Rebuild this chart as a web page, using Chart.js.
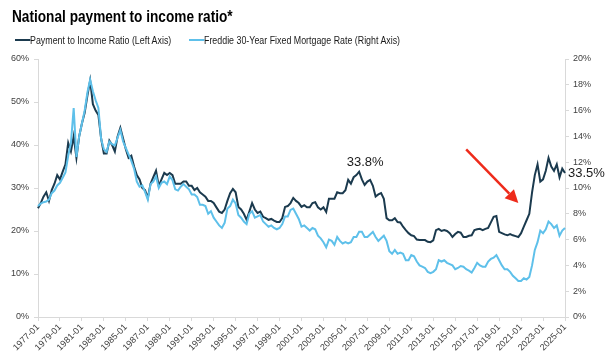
<!DOCTYPE html>
<html>
<head>
<meta charset="utf-8">
<script src="https://cdn.jsdelivr.net/npm/chart.js@4.4.0/dist/chart.umd.min.js"></script>
<style>
    body { margin: 0; background: #fff; }
    #wrap { position: relative; width: 610px; height: 358px; font-family: "Liberation Sans", Arial, sans-serif; }
    #grafico { position: absolute; left: 0; top: 0; }
    .titulo { position: absolute; left: 12px; top: 8px; font-size: 16px; font-weight: bold; color: #000;
              white-space: nowrap; transform: scaleX(0.853); transform-origin: left top; }
    .legenda { position: absolute; top: 33.5px; font-size: 11.5px; color: #1a1a1a; white-space: nowrap;
               display: flex; align-items: center; transform: scaleX(0.77); transform-origin: left top; }
    .legenda i { display: inline-block; width: 19.5px; height: 2px; }
</style>
</head>
<body>
<div id="wrap">
    <canvas id="grafico" width="610" height="358"></canvas>
    <div class="titulo">National payment to income ratio*</div>
    <div id="legendas"></div>
</div>

<script>
// dados trimestrais (1977-01 até 2025-01)
const anoInicio = 1977;
const mesesTrimestre = ['01', '04', '07', '10'];

const pagamentoRenda = [
    25.3, 26.5, 28, 29,
    27, 29.5, 31, 33,
    32, 33.8, 35.5, 40.5,
    38.5, 42, 37, 42,
    45, 47.5, 51.5, 55,
    49.5, 48, 47, 41.5,
    38, 38, 41, 40,
    38.5, 42, 44, 41.5,
    39, 37, 37.5, 35,
    33, 32, 30, 29.5,
    27.7, 31, 32.5, 34,
    30.5, 32, 33.5, 33,
    33.5, 33, 31, 31,
    31, 31.5, 31.5, 30.5,
    30.5, 29.5, 30, 29,
    28.5, 28, 27, 27,
    26.5, 25.5, 24.5, 24.2,
    25, 27, 28.8, 29.8,
    29, 25.6, 25, 24,
    22.6, 24.5, 26.5, 25,
    24.2, 24.5, 23.3, 23,
    22.6, 22.8, 22.4, 22.1,
    22.1, 23, 25.6, 25.8,
    26.5, 27.7, 27, 26.5,
    25.6, 26, 25.5, 25.5,
    26.5, 26.7, 25.5, 25,
    25.5, 24.4, 27.5, 27.5,
    27.5, 29, 28.8, 28.8,
    29.5, 31.9, 31, 32.5,
    33, 33.8, 32, 30.7,
    31.5, 31.9, 30.5, 28,
    28.5, 28.8, 27.5, 23,
    22.5, 22.5, 23, 22.1,
    22, 21, 20.2, 19.5,
    19, 18.8, 18, 17.9,
    17.9, 17.9, 17.5, 17.4,
    17.8, 20.2, 20.5, 20,
    20.2, 20, 19.5, 18.6,
    19.3, 19.8, 19.6, 18.6,
    18.6, 18.9, 19, 20.2,
    20.4, 20.5, 20.2, 20.5,
    20.7, 22, 23.3, 23.5,
    19.8, 19.5, 19.2, 19,
    19.3, 19, 18.8, 18.6,
    19.5, 21, 22.5, 24,
    29, 33, 35.5, 31.5,
    32, 34, 37, 35,
    34, 35.5, 32.5, 34.5,
    33.5
];

const taxaFreddie = [
    8.6, 8.8, 8.9, 8.95,
    9.1, 9.6, 9.8, 10.2,
    10.4, 10.8, 11.2, 12.5,
    13.5, 16.2, 12.4, 14.0,
    15.0, 16.0, 17.4, 18.4,
    17.5, 16.8, 16.2, 13.8,
    13.0, 12.8, 13.6, 13.4,
    13.3, 13.9, 14.5, 13.6,
    13.1, 12.6, 12.1, 11.5,
    10.5, 10.1, 10.2, 9.7,
    9.1, 10.3, 10.5, 10.9,
    10.0, 10.4, 10.5, 10.3,
    10.9, 10.6, 9.9, 9.8,
    10.1, 10.3, 10.1, 9.9,
    9.5, 9.5, 9.3, 8.7,
    8.7, 8.6, 8.0, 8.2,
    7.7, 7.4, 7.1, 6.9,
    7.3, 8.4, 8.6, 9.1,
    8.8, 7.9, 7.7, 7.4,
    7.2, 8.0, 8.2, 7.7,
    7.8, 7.9, 7.4, 7.2,
    7.0, 7.1, 6.9, 6.8,
    6.9, 7.2, 7.8, 7.8,
    8.3, 8.4, 8.0, 7.6,
    7.0, 7.1, 6.9, 6.7,
    6.9, 6.8, 6.3, 6.1,
    5.8, 5.4, 6.0, 5.9,
    5.6, 6.2, 5.9, 5.7,
    5.8, 5.7, 5.8, 6.2,
    6.2, 6.6, 6.6, 6.2,
    6.2, 6.4, 6.6, 6.2,
    5.9, 6.1, 6.3, 5.9,
    5.1, 4.9, 5.2, 4.9,
    5.0, 4.9, 4.4, 4.4,
    4.8, 4.7, 4.3, 4.0,
    3.9, 3.8, 3.5, 3.4,
    3.5, 3.7, 4.4, 4.3,
    4.4, 4.2, 4.1, 4.0,
    3.7, 3.8, 3.95, 3.9,
    3.7, 3.6, 3.45, 3.8,
    4.2, 4.0, 3.9, 3.9,
    4.3, 4.5, 4.6, 4.8,
    4.4, 4.0, 3.7, 3.7,
    3.5, 3.2, 3.0, 2.8,
    2.8, 3.0, 2.9, 3.1,
    4.0, 5.2, 5.8, 6.7,
    6.5, 6.8, 7.4, 7.2,
    6.9, 7.1, 6.3, 6.7,
    6.9
];

// rótulos "AAAA-MM" de cada trimestre
const rotulos = [];
for (let i = 0; i < pagamentoRenda.length; i++) {
    rotulos.push((anoInicio + Math.floor(i / 4)) + '-' + mesesTrimestre[i % 4]);
}

const nomesSeries = ['Payment to Income Ratio (Left Axis)', 'Freddie 30-Year Fixed Mortgage Rate (Right Axis)'];
const coresSeries = ['#1b3a4e', '#5ec0ea'];
const escalaEsquerda = [0, 60, 10];
const escalaDireita = [0, 20, 2];

// anotações
const picoRotulo = '2006-04';
const picoTexto = '33.8%';
const fimTexto = '33.5%';
const setaInicio = ['2016-01', 39];
const setaFim = ['2020-10', 26.5];

const corEixo = '#d9d9d9';
const corTexto = '#404040';
const fonte = '"Liberation Sans", Arial, sans-serif';

// legenda em html
document.getElementById('legendas').innerHTML = nomesSeries.map((nome, i) =>
    `<div class="legenda" style="left:${i === 0 ? 15 : 189}px"><i style="background:${coresSeries[i]}"></i>${nome}</div>`
).join('');

const anotacoes = {
    id: 'anotacoes',
    afterDatasetsDraw(chart) {
        const { ctx, scales: { x, y } } = chart;
        ctx.save();
        ctx.font = '13px ' + fonte;
        ctx.fillStyle = '#1a1a1a';

        const iPico = rotulos.indexOf(picoRotulo);
        ctx.textAlign = 'center';
        ctx.textBaseline = 'bottom';
        ctx.fillText(picoTexto, x.getPixelForValue(iPico) + 6, y.getPixelForValue(pagamentoRenda[iPico]) - 3);

        const iFim = pagamentoRenda.length - 1;
        ctx.textAlign = 'left';
        ctx.textBaseline = 'middle';
        ctx.fillText(fimTexto, x.getPixelForValue(iFim) + 3, y.getPixelForValue(pagamentoRenda[iFim]));

        // seta vermelha
        const x0 = x.getPixelForValue(rotulos.indexOf(setaInicio[0])), y0 = y.getPixelForValue(setaInicio[1]);
        const x1 = x.getPixelForValue(rotulos.indexOf(setaFim[0])), y1 = y.getPixelForValue(setaFim[1]);
        const ang = Math.atan2(y1 - y0, x1 - x0);
        const cabeca = 13, abertura = 6.5;
        const bx = x1 - cabeca * Math.cos(ang), by = y1 - cabeca * Math.sin(ang);
        ctx.strokeStyle = '#ee2b1b';
        ctx.fillStyle = '#ee2b1b';
        ctx.lineWidth = 2.5;
        ctx.beginPath();
        ctx.moveTo(x0, y0);
        ctx.lineTo(bx, by);
        ctx.stroke();
        ctx.beginPath();
        ctx.moveTo(x1, y1);
        ctx.lineTo(bx + abertura * Math.sin(ang), by - abertura * Math.cos(ang));
        ctx.lineTo(bx - abertura * Math.sin(ang), by + abertura * Math.cos(ang));
        ctx.closePath();
        ctx.fill();
        ctx.restore();
    }
};

const eixoY = (faixa, posicao, largura, pad) => ({
    position: posicao,
    min: faixa[0],
    max: faixa[1],
    grid: { display: true, drawOnChartArea: false, tickLength: 4, color: corEixo },
    border: { color: corEixo },
    ticks: {
        stepSize: faixa[2],
        padding: pad,
        color: corTexto,
        font: { family: fonte, size: 9 },
        callback: v => v + '%'
    },
    afterFit: s => { s.width = largura; }
});

const grafico = new Chart(document.getElementById('grafico'), {
    type: 'line',
    data: {
        labels: rotulos,
        datasets: [
            {
                label: nomesSeries[0],
                data: pagamentoRenda,
                borderColor: coresSeries[0],
                borderWidth: 2,
                pointRadius: 0,
                tension: 0,
                yAxisID: 'y',
                order: 2
            },
            {
                label: nomesSeries[1],
                data: taxaFreddie,
                borderColor: coresSeries[1],
                borderWidth: 2,
                pointRadius: 0,
                tension: 0,
                yAxisID: 'y1',
                order: 1
            }
        ]
    },
    options: {
        responsive: false,
        animation: false,
        layout: { padding: { top: 59, left: 0, right: 0, bottom: 0 } },
        plugins: {
            legend: { display: false },
            tooltip: { enabled: false }
        },
        scales: {
            x: {
                grid: { display: true, drawOnChartArea: false, tickLength: 4, color: corEixo },
                border: { color: corEixo },
                ticks: {
                    autoSkip: false,
                    minRotation: 45,
                    maxRotation: 45,
                    padding: 1,
                    color: corTexto,
                    font: { family: fonte, size: 9 },
                    callback: function (v, i) {
                        return i % 8 === 0 ? this.getLabelForValue(v) : null;
                    }
                },
                afterFit: s => { s.height = 41; }
            },
            y: eixoY(escalaEsquerda, 'left', 38, 5),
            y1: eixoY(escalaDireita, 'right', 45, 4)
        }
    },
    plugins: [anotacoes]
});
</script>
</body>
</html>
